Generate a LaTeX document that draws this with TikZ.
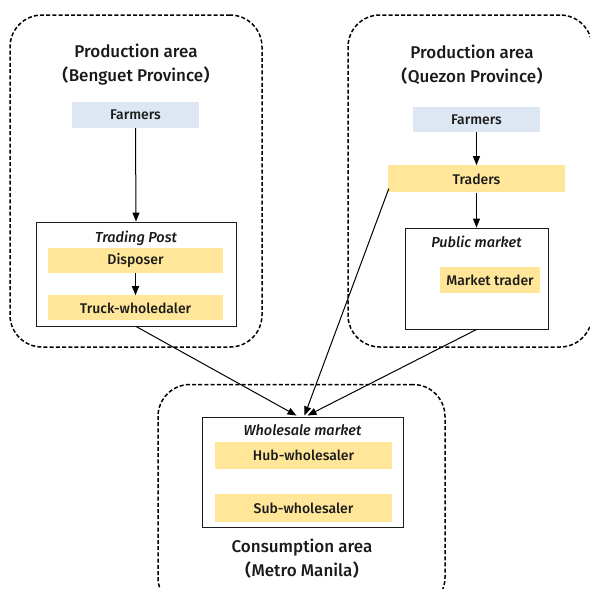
\documentclass[tikz,border=0pt]{standalone}
\usepackage{fontspec}
\setmainfont{Fira Sans}[BoldFont={Fira Sans Medium},BoldItalicFont={Fira Sans Medium Italic}]
\newfontfamily\cjk{Noto Sans CJK JP}
\usetikzlibrary{arrows.meta,positioning,calc}
\definecolor{farmerblue}{HTML}{DDE7F3}
\definecolor{actoryellow}{HTML}{FFE699}
\definecolor{inkgray}{HTML}{1A1A1A}
\newcommand{\lpar}{{\cjk （}}
\newcommand{\rpar}{{\cjk ）}}

\begin{document}
\begin{tikzpicture}[
  x=1pt, y=-1pt,
  font=\fontsize{14}{16}\selectfont\bfseries,
  text=inkgray,
  >={Triangle[length=9pt,width=7pt]},
  areabox/.style={
    draw=black,
    dash pattern=on 4pt off 2.2pt,
    line width=1.5pt,
    rounded corners=32pt,
    inner sep=0pt
  },
  areatitle/.style={
    font=\fontsize{17}{24}\selectfont\bfseries,
    align=center,
    inner sep=0pt
  },
  sitebox/.style={
    draw=inkgray,
    fill=white,
    line width=0.9pt,
    inner sep=0pt
  },
  sitelabel/.style={
    font=\fontsize{14.5}{16}\selectfont\bfseries\itshape,
    inner sep=0pt
  },
  farmerbox/.style={
    fill=farmerblue,
    minimum height=26pt,
    inner sep=0pt
  },
  actorbox/.style={
    fill=actoryellow,
    minimum height=26pt,
    inner sep=0pt
  },
  flow/.style={
    ->,
    line width=1pt,
    draw=black
  }
]
  \useasboundingbox (0,0) rectangle (590,589);

  % --- PRODUCTION AREA: Benguet ---
  \node[areabox, minimum width=252pt, minimum height=332pt] (benguet) at (136,181) {};
  \node[areatitle] (benguettitle) at (136,65) {Production area\\\lpar Benguet Province\rpar};
  \node[farmerbox, minimum width=127pt] (farmersB) at (135.5,115) {Farmers};

  \node[sitebox, minimum width=200pt, minimum height=104pt] (tradingpost) at (136,274) {};
  \node[sitelabel] (tradingtitle) at (136,238) {Trading Post};
  \node[actorbox, minimum width=175pt, minimum height=25pt] (disposer) at (135.5,260.5) {Disposer};
  \node[actorbox, minimum width=175pt, minimum height=25pt, below=22pt of disposer] (truck) {Truck-wholedaler};

  % --- PRODUCTION AREA: Quezon ---
  \node[areabox, minimum width=244pt, minimum height=332pt] (quezon) at (470,181) {};
  \node[areatitle] (quezontitle) at (472,65) {Production area\\\lpar Quezon Province\rpar};
  \node[farmerbox, minimum width=127pt, minimum height=25pt] (farmersQ) at (476.5,119.5) {Farmers};
  \node[actorbox, minimum width=177pt, minimum height=27pt, below=33pt of farmersQ] (traders) {Traders};

  \node[sitebox, minimum width=143pt, minimum height=101pt, below=35pt of traders] (publicmkt) {};
  \node[sitelabel] (publictitle) at (476.5,242) {Public market};
  \node[actorbox, minimum width=100pt] (mkttrader) at (490,280) {Market trader};

  % --- CONSUMPTION AREA: Metro Manila ---
  \node[areabox, minimum width=287pt, minimum height=225pt] (manila) at (301.5,497) {};
  \node[sitebox, minimum width=201pt, minimum height=110pt] (wholesale) at (302.5,472) {};
  \node[sitelabel] (wholesaletitle) at (302.5,430) {Wholesale market};
  \node[actorbox, minimum width=177pt, minimum height=27pt] (hub) at (303.5,455.5) {Hub-wholesaler};
  \node[actorbox, minimum width=177pt, minimum height=28pt, below=25pt of hub] (subwh) {Sub-wholesaler};
  \node[areatitle] (manilatitle) at (302,559) {Consumption area\\\lpar Metro Manila\rpar};

  % entry points on the wholesale market
  \coordinate (inB) at ($(wholesale.north)+(-6,-1)$);
  \coordinate (inT) at ($(wholesale.north)+(2,-1)$);
  \coordinate (inP) at ($(wholesale.north)+(5,-1)$);

  % Connecting Arrows
  \draw[flow] (farmersB.south) -- (tradingpost.north);
  \draw[flow] (disposer.south) -- (truck.north);
  \draw[flow] (farmersQ.south) -- (traders.north);
  \draw[flow] (traders.south) -- (publicmkt.north);

  % flows into Metro Manila
  \draw[flow] (tradingpost.south) -- (inB);
  \draw[flow] ($(traders.south west)+(1,-4)$) -- (inT);
  \draw[flow] (publicmkt.south) -- (inP);

\end{tikzpicture}
\end{document}
